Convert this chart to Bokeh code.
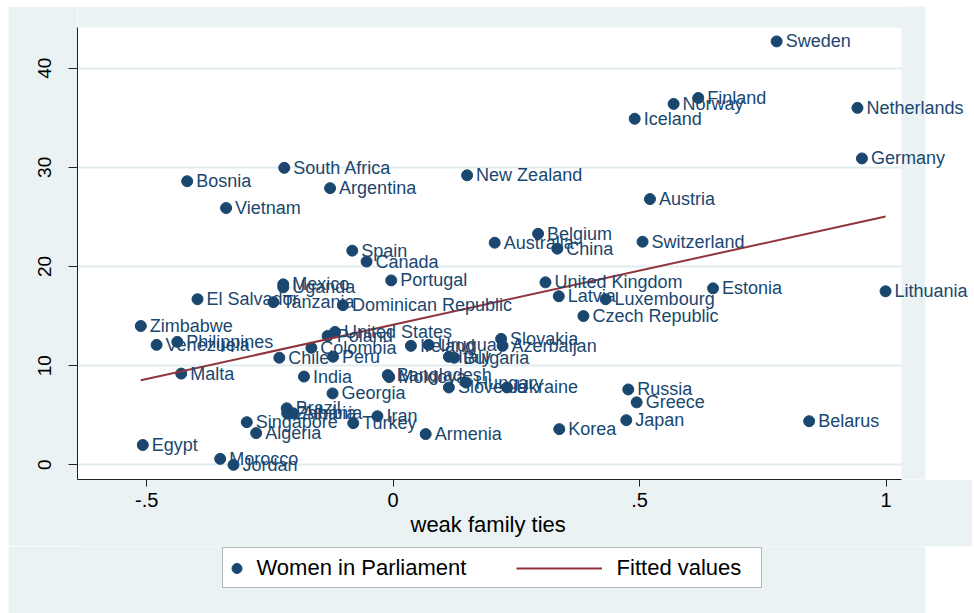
from bokeh.plotting import figure
from bokeh.layouts import column
from bokeh.models import (Range1d, FixedTicker, ColumnDataSource, LabelSet,
                          Legend, LegendItem, BoxAnnotation, Title)
from bokeh.core.properties import value
from bokeh.embed import file_html
from bokeh.resources import INLINE

# ---------------- data ----------------
countries = [
    "Sweden", "Finland", "Norway", "Iceland", "Netherlands", "Germany",
    "South Africa", "Bosnia", "Argentina", "New Zealand", "Vietnam", "Austria",
    "Belgium", "Australia", "China", "Switzerland", "Spain", "Canada",
    "Portugal", "Mexico", "Uganda", "El Salvador", "Tanzania", "Dominican Republic",
    "United Kingdom", "Latvia", "Luxembourg", "Estonia", "Lithuania", "Czech Republic",
    "Zimbabwe", "Philippines", "Venezuela", "Poland", "United States", "Colombia",
    "Chile", "Peru", "Ireland", "Uruguay", "Italy", "Bulgaria",
    "Slovakia", "Azerbaijan", "Malta", "India", "Bangladesh", "Moldova",
    "Slovenia", "Hungary", "Ukraine", "Russia", "Greece", "Georgia",
    "Brazil", "Zambia", "Albania", "Iran", "Turkey", "Singapore",
    "Algeria", "Armenia", "Korea", "Japan", "Belarus", "Egypt",
    "Morocco", "Jordan",
]
weak_family_ties = [
    0.778, 0.619, 0.569, 0.490, 0.942, 0.951,
    -0.221, -0.418, -0.128, 0.150, -0.339, 0.521,
    0.294, 0.206, 0.333, 0.506, -0.083, -0.054,
    -0.004, -0.223, -0.223, -0.397, -0.243, -0.102,
    0.309, 0.336, 0.431, 0.649, 0.999, 0.386,
    -0.512, -0.438, -0.480, -0.133, -0.118, -0.166,
    -0.231, -0.122, 0.036, 0.072, 0.113, 0.124,
    0.219, 0.222, -0.430, -0.181, -0.011, -0.008,
    0.113, 0.148, 0.231, 0.477, 0.494, -0.123,
    -0.216, -0.215, -0.203, -0.032, -0.081, -0.297,
    -0.278, 0.066, 0.337, 0.473, 0.844, -0.508,
    -0.351, -0.324,
]
women_in_parliament = [
    42.7, 37.0, 36.4, 34.9, 36.0, 30.9,
    29.95, 28.6, 27.9, 29.2, 25.9, 26.8,
    23.3, 22.4, 21.8, 22.5, 21.6, 20.5,
    18.6, 18.2, 17.9, 16.7, 16.4, 16.1,
    18.4, 17.0, 16.7, 17.8, 17.5, 15.0,
    14.0, 12.4, 12.1, 13.0, 13.4, 11.8,
    10.8, 10.9, 12.0, 12.1, 10.9, 10.8,
    12.7, 12.0, 9.2, 8.9, 9.05, 8.85,
    7.8, 8.3, 7.8, 7.6, 6.3, 7.2,
    5.7, 5.2, 5.2, 4.9, 4.2, 4.3,
    3.2, 3.1, 3.6, 4.5, 4.4, 2.0,
    0.6, 0.0,
]
fit_x = [-0.512, 0.999]
fit_y = [8.53, 25.04]

x_ticks = [-0.5, 0, 0.5, 1]
x_tick_labels = ["-.5", "0", ".5", "1"]
y_ticks = [0, 10, 20, 30, 40]
y_tick_labels = ["0", "10", "20", "30", "40"]

# ---------------- style ----------------
BG = "#EAF2F3"
NAVY = "#1A476F"
MAROON = "#90353B"
FONT = "Liberation Sans"

W = 964
H1, H2 = 540, 67
FL, FB = 69, 473                   # frame left / bottom (canvas px); frame top = canvas top
X_LO, X_HI = -0.6405, 1.1754       # frame spans to the canvas' right edge
X_PLOT_END = 1.0313                # right edge of the plot region
X_BG_END = 1.0800                  # right edge of the shaded background
Y_LO, Y_PLOT_TOP = -1.48, 44.1     # plot region
Y_HI = 46.22                       # frame reaches up to the canvas top

p = figure(width=W, height=H1,
           x_range=Range1d(X_LO, X_HI), y_range=Range1d(Y_LO, Y_HI),
           output_backend="svg", toolbar_location=None,
           min_border_left=FL, min_border_right=0,
           min_border_top=0, min_border_bottom=H1 - FB)
p.margin = (6, 0, 0, 8)
p.border_fill_color = BG
p.background_fill_color = "white"
p.outline_line_color = None

# grid lines
p.xgrid.visible = False
p.ygrid.ticker = FixedTicker(ticks=y_ticks)
p.ygrid.grid_line_color = "#E2ECEF"
p.ygrid.grid_line_width = 2

# shaded margins above / right of the plot region, white beyond the shading
p.add_layout(BoxAnnotation(bottom=Y_PLOT_TOP, right=X_BG_END, fill_color=BG,
                           fill_alpha=1, line_color=None, level="underlay"))
p.add_layout(BoxAnnotation(left=X_PLOT_END, right=X_BG_END, fill_color=BG,
                           fill_alpha=1, line_color=None, level="underlay"))
p.add_layout(BoxAnnotation(left=X_BG_END, fill_color="white",
                           fill_alpha=1, line_color=None, level="underlay"))

src = ColumnDataSource(dict(x=weak_family_ties, y=women_in_parliament, name=countries))

r_pts = p.scatter(x="x", y="y", source=src, size=11, fill_color=NAVY, line_color=NAVY)
r_fit = p.line(x=fit_x, y=fit_y, line_color=MAROON, line_width=2)

labels = LabelSet(x="x", y="y", text="name", source=src, x_offset=9, y_offset=0,
                  text_baseline="middle", text_align="left",
                  text_font=value(FONT), text_font_size="18px", text_color=NAVY)
p.add_layout(labels)

# axes
p.xaxis.ticker = FixedTicker(ticks=x_ticks)
p.xaxis.major_label_overrides = {t: s for t, s in zip(x_ticks, x_tick_labels)}
p.xaxis.bounds = (X_LO, X_PLOT_END)
p.yaxis.ticker = FixedTicker(ticks=y_ticks)
p.yaxis.major_label_overrides = {t: s for t, s in zip(y_ticks, y_tick_labels)}
p.yaxis.bounds = (Y_LO, Y_PLOT_TOP)
for ax in (p.xaxis, p.yaxis):
    ax.axis_line_color = "#222222"
    ax.axis_line_width = 1
    ax.major_tick_line_color = "#222222"
    ax.major_tick_in = 0
    ax.minor_tick_line_color = None
    ax.major_label_text_font = FONT
    ax.major_label_text_color = "black"
p.xaxis.major_tick_out = 7
p.xaxis.major_label_text_font_size = "20px"
p.xaxis.major_label_standoff = 6
p.yaxis.major_tick_out = 9
p.yaxis.major_label_text_font_size = "19px"
p.yaxis.major_label_orientation = "vertical"
p.yaxis.major_label_standoff = 17

# x-axis title, centred under the plot region (not under the wider frame)
title_kw = dict(text="weak family ties", align="left", offset=333,
                text_font=FONT, text_font_size="22px", text_font_style="normal",
                text_color="black")
if "standoff" in Title.properties():
    title_kw["standoff"] = 0
p.add_layout(Title(**title_kw), "below")

# ---------------- legend strip (second canvas, 1 unit = 1 px, offset so no data shows) ----------------
OFF = 1000.0
FW2 = W - FL
p2 = figure(width=W, height=H2,
            x_range=Range1d(OFF, OFF + FW2), y_range=Range1d(OFF, OFF + H2),
            x_axis_type=None, y_axis_type=None,
            output_backend="svg", toolbar_location=None,
            min_border_left=FL, min_border_right=0,
            min_border_top=0, min_border_bottom=0)
p2.margin = (0, 0, 0, 8)
p2.border_fill_color = BG
p2.background_fill_color = BG
p2.outline_line_color = None
p2.grid.visible = False

# white beyond the shaded area
p2.add_layout(BoxAnnotation(left=OFF + 848, fill_color="white", fill_alpha=1,
                            line_color=None, level="underlay"))
# legend box (frame px: x 145..684, y from bottom 26..66)
BOX = (145, 684, 26, 66)
p2.add_layout(BoxAnnotation(left=OFF + BOX[0], right=OFF + BOX[1],
                            bottom=OFF + BOX[2], top=OFF + BOX[3],
                            fill_color="white", fill_alpha=1,
                            line_color="#222222", line_width=1, level="underlay"))

leg_pts = p2.scatter(x="x", y="y", source=src, size=11, fill_color=NAVY, line_color=NAVY)
leg_fit = p2.line(x=fit_x, y=fit_y, line_color=MAROON, line_width=2)

def make_legend(item, loc, gw, standoff):
    return Legend(items=[item], location=loc, orientation="horizontal",
                  glyph_width=gw, glyph_height=26, label_height=26, label_width=0,
                  label_standoff=standoff, padding=0, margin=0, spacing=0,
                  border_line_color=None, background_fill_alpha=0,
                  label_text_font=FONT, label_text_font_size="22px",
                  label_text_color="black")

p2.add_layout(make_legend(LegendItem(label="Women in Parliament", renderers=[leg_pts]),
                          (146.5, 32.3), 25, 8))
p2.add_layout(make_legend(LegendItem(label="Fitted values", renderers=[leg_fit]),
                          (438.6, 32.3), 86, 15))

layout = column(p, p2, spacing=0)
open("out.html", "w").write(file_html(layout, INLINE))
